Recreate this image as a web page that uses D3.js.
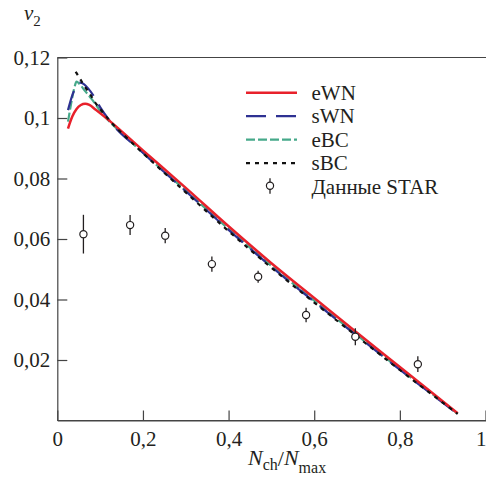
<!DOCTYPE html>
<html><head><meta charset="utf-8">
<script src="https://cdn.jsdelivr.net/npm/d3@7"></script>
<style>
html,body{margin:0;padding:0;background:#fff;}
svg{display:block;}
text{font-family:"Liberation Serif","Times New Roman",serif;fill:#231f20;}
</style></head>
<body>
<svg id="chart" width="486" height="485"></svg>
<script>
// ---- data ----
const xTicks = [0, 0.2, 0.4, 0.6, 0.8, 1];
const yTicks = [0.02, 0.04, 0.06, 0.08, 0.1, 0.12];

const eWN = [[0.025,0.0965],[0.035,0.1005],[0.045,0.1030],[0.055,0.1043],[0.065,0.1047],[0.075,0.1043],[0.09,0.1027],[0.12,0.0993],[0.2,0.0893],[0.3,0.0769],[0.4,0.0642],[0.5,0.0520],[0.6,0.0405],[0.7,0.0290],[0.8,0.0177],[0.935,0.0024]];
const sWN = [[0.025,0.1026],[0.035,0.1075],[0.045,0.1105],[0.053,0.1117],[0.062,0.1112],[0.072,0.1098],[0.084,0.1075],[0.1,0.1036],[0.12,0.0995],[0.2,0.0885],[0.3,0.0758],[0.4,0.0630],[0.5,0.0508],[0.6,0.0393],[0.7,0.0280],[0.8,0.0168],[0.935,0.0022]];
const eBC = [[0.025,0.0988],[0.032,0.1045],[0.039,0.1095],[0.045,0.1120],[0.052,0.1112],[0.065,0.1089],[0.08,0.1063],[0.1,0.1024],[0.111,0.1005],[0.154,0.0945],[0.2,0.0885],[0.3,0.0760],[0.4,0.0633],[0.5,0.0511],[0.6,0.0396],[0.7,0.0282],[0.8,0.0170],[0.935,0.0023]];
const sBC = [[0.043,0.1153],[0.055,0.1125],[0.065,0.1102],[0.076,0.1080],[0.088,0.1052],[0.1,0.1030],[0.12,0.0995],[0.173,0.0920],[0.2,0.0884],[0.3,0.0754],[0.4,0.0626],[0.5,0.0505],[0.6,0.0390],[0.7,0.0278],[0.8,0.0167],[0.935,0.0022]];

const starX   = [0.061, 0.170, 0.252, 0.361, 0.469, 0.581, 0.696, 0.842];
const starY   = [0.0616, 0.0646, 0.0611, 0.0517, 0.0475, 0.0349, 0.0277, 0.0186];
const starErr = [0.0064, 0.0033, 0.0025, 0.0025, 0.0020, 0.0024, 0.0028, 0.0026];

const seriesNames = ["eWN", "sWN", "eBC", "sBC"];
const starLabel = "Данные STAR";

// ---- layout ----
const svg = d3.select("#chart");
const x = d3.scaleLinear().domain([0, 1]).range([57.3, 485.5]);
const y = d3.scaleLinear().domain([0, 0.12]).range([420.5, 57.5]);
const fmt = d => String(+d.toFixed(2)).replace(".", ",");

const styles = {
  eWN: {color:"#e8212b", width:2.5, dash:null},
  sWN: {color:"#2e3192", width:2.2, dash:"20,10"},
  eBC: {color:"#46a98a", width:2.2, dash:"9,3"},
  sBC: {color:"#111", width:2.2, dash:"4,5"}
};

// axes
const xAxis = svg.append("g").attr("transform", `translate(0,${y(0)})`)
  .call(d3.axisBottom(x).tickValues(xTicks).tickFormat(fmt).tickSize(-10).tickSizeOuter(0).tickPadding(11));
const yAxis = svg.append("g").attr("transform", `translate(${x(0)},0)`)
  .call(d3.axisLeft(y).tickValues(yTicks).tickFormat(fmt).tickSize(-10).tickSizeOuter(0).tickPadding(7));
[xAxis, yAxis].forEach(g => {
  g.attr("font-family", null);
  g.selectAll("path.domain").attr("stroke", "#444").attr("stroke-width", 1.2);
  g.selectAll(".tick line").attr("stroke", "#444").attr("stroke-width", 1.2);
  g.selectAll(".tick text").style("font-family", '"Liberation Serif",serif').style("font-size", "21px").attr("fill", "#231f20");
});
// keep the last x label ("1") inside the window, as in the reference
xAxis.selectAll(".tick text").filter(d => d === 1).attr("text-anchor", "end").attr("dx", 0.5);

// top frame
svg.append("line").attr("x1", x(0)).attr("x2", 486).attr("y1", y(0.12)).attr("y2", y(0.12))
  .attr("stroke", "#444").attr("stroke-width", 1.2);
svg.append("line").attr("x1", x(0)).attr("x2", 486).attr("y1", y(0)).attr("y2", y(0))
  .attr("stroke", "#444").attr("stroke-width", 1.2);

// curves
const line = d3.line().x(d => x(d[0])).y(d => y(d[1])).curve(d3.curveMonotoneX);
const data = {eWN, sWN, eBC, sBC};
["eBC", "sWN", "eWN", "sBC"].forEach(k => {
  const s = styles[k];
  svg.append("path").datum(data[k]).attr("d", line)
    .attr("fill", "none").attr("stroke", s.color).attr("stroke-width", s.width)
    .attr("stroke-dasharray", s.dash);
});

// STAR data
const pts = starX.map((v, i) => ({x: v, y: starY[i], e: starErr[i]}));
const pg = svg.append("g");
pg.selectAll("line").data(pts).join("line")
  .attr("x1", d => x(d.x)).attr("x2", d => x(d.x))
  .attr("y1", d => y(d.y + d.e)).attr("y2", d => y(d.y - d.e))
  .attr("stroke", "#231f20").attr("stroke-width", 1.3);
pg.selectAll("circle").data(pts).join("circle")
  .attr("cx", d => x(d.x)).attr("cy", d => y(d.y)).attr("r", 3.6)
  .attr("fill", "#fff").attr("stroke", "#231f20").attr("stroke-width", 1.2);

// legend
const lg = svg.append("g");
seriesNames.forEach((k, i) => {
  const yy = 92.7 + i * 23.5;
  const s = styles[k];
  lg.append("line").attr("x1", 246).attr("x2", 297).attr("y1", yy).attr("y2", yy)
    .attr("stroke", s.color).attr("stroke-width", s.width).attr("stroke-dasharray", s.dash);
  lg.append("text").attr("x", 311.5).attr("y", yy + 7).style("font-size", "21px").text(k);
});
{
  const yy = 92.7 + 4 * 23.5;
  lg.append("line").attr("x1", 270).attr("x2", 270).attr("y1", yy - 8.5).attr("y2", yy + 7)
    .attr("stroke", "#231f20").attr("stroke-width", 1.3);
  lg.append("circle").attr("cx", 270).attr("cy", yy - 1).attr("r", 3.6)
    .attr("fill", "#fff").attr("stroke", "#231f20").attr("stroke-width", 1.2);
  lg.append("text").attr("x", 311.5).attr("y", yy + 7).style("font-size", "21px").text(starLabel);
}

// axis titles
const yt = svg.append("text").attr("x", 24).attr("y", 20).style("font-size", "21px");
yt.append("tspan").style("font-style", "italic").text("v");
yt.append("tspan").attr("dy", 6).style("font-size", "15px").text("2");

const xt = svg.append("text").attr("x", 248).attr("y", 465).style("font-size", "22px");
xt.append("tspan").style("font-style", "italic").text("N");
xt.append("tspan").attr("dy", 5).style("font-size", "16px").text("ch");
xt.append("tspan").attr("dy", -4).text("/");
xt.append("tspan").attr("dy", -1).style("font-style", "italic").text("N");
xt.append("tspan").attr("dy", 8).style("font-size", "16px").text("max");
</script>
</body></html>
